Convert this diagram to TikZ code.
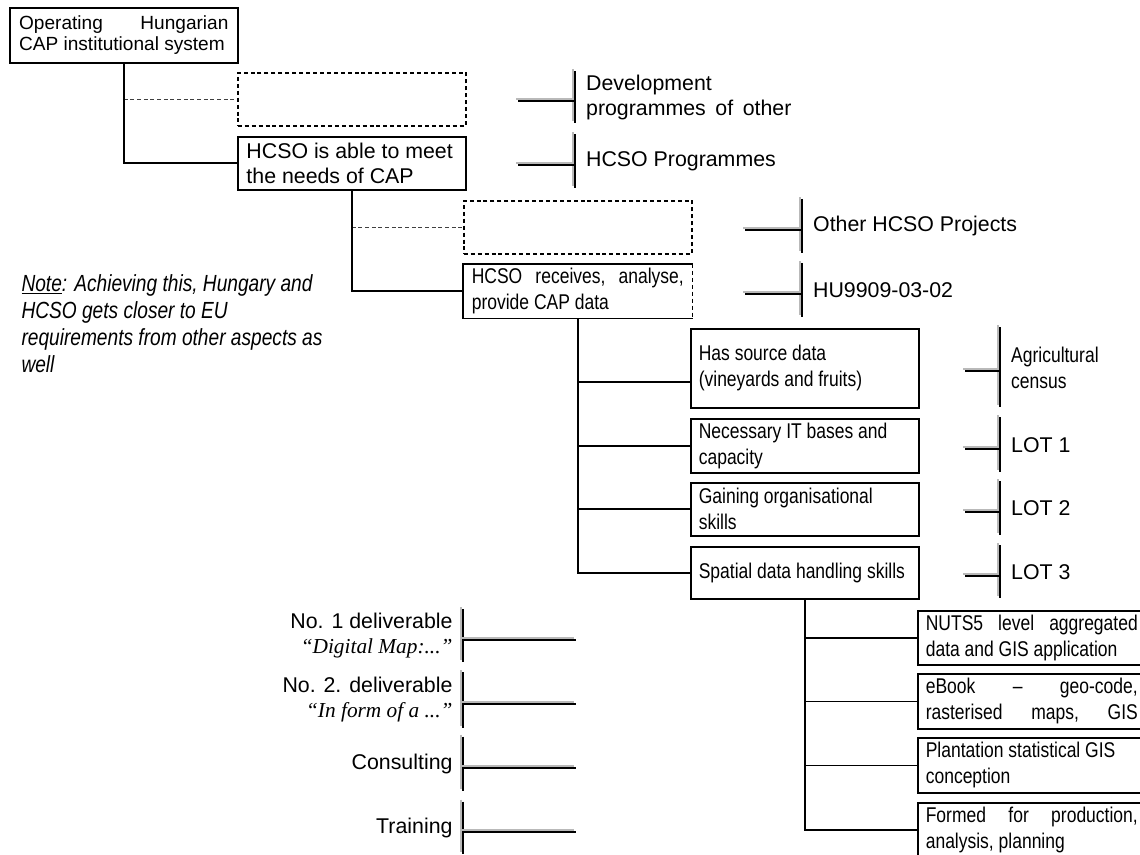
\documentclass[tikz,border=0pt]{standalone}
\usepackage{fontspec}
\setmainfont{Liberation Sans}
\newfontfamily\narrowfont{Liberation Sans}[FakeStretch=0.82]
\newfontfamily\quotefont{Liberation Serif}
\usetikzlibrary{calc}

\tikzset{every picture/.style={line width=0.75pt}}
\tikzset{
  box/.style={draw, line width=1.2pt, anchor=north west, minimum width=171pt, text width=159pt, inner xsep=6pt, inner ysep=2pt, align=flush left, font=\fontsize{16}{18.75}\selectfont},
  narrowbox/.style={box, font=\narrowfont\fontsize{16}{19.5}\selectfont},
  dashbox/.style={draw, line width=1.2pt, dash pattern=on 3pt off 2.2pt, anchor=north west, minimum width=171pt, minimum height=39.75pt},
  link/.style={line width=1.2pt},
  dashlink/.style={line width=0.8pt, draw=gray!50!black, dash pattern=on 3pt off 2pt},
  bar/.style={line width=1.5pt, preaction={draw=gray!55, line width=1.5pt, transform canvas={shift={(-1.5pt,1.5pt)}}}},
  tag/.style={anchor=west, inner xsep=8pt, inner ysep=0pt, align=flush left, minimum height=39.75pt, font=\fontsize{16}{18.75}\selectfont},
  deliv/.style={anchor=east, inner xsep=7.5pt, inner ysep=0pt, align=right, minimum height=39.75pt, font=\fontsize{16}{18.75}\selectfont}
}

\begin{document}
\begin{tikzpicture}[x=0.75pt,y=0.75pt,yscale=-1,xscale=1]
\useasboundingbox (0,0) rectangle (1140,855);

%Shape: Rectangle [top]
\node (top) [box, minimum height=41.25pt, inner xsep=7pt, text width=157pt, font=\fontsize{14.3}{15.75}\selectfont] at (9,7) {Operating\hfill Hungarian\\CAP institutional system};
\node (dashA) [dashbox] at (237,72) {};
\node (meet) [box, minimum height=39.75pt, inner xsep=6.5pt, text width=158pt] at (237,136) {HCSO is able to meet\\the needs of CAP};
\node (dashB) [dashbox] at (463,200) {};
\node (recv) [narrowbox, draw=none, minimum height=39.75pt] at (463,264) {HCSO\hfill receives,\hfill analyse,\\provide CAP data};

%Shape: Rectangle [column 3]
\node (src) [narrowbox, minimum height=59.25pt] at (690,328) {Has source data\\(vineyards and fruits)};
\node (itb) [narrowbox, minimum height=40.5pt] at (690,418) {Necessary IT bases and\\capacity};
\node (org) [narrowbox, minimum height=39.75pt] at (690,482) {Gaining organisational\\skills};
\node (spat) [narrowbox, minimum height=39pt] at (690,546) {Spatial data handling skills};

%Shape: Rectangle [column 4]
\node (nuts) [narrowbox, minimum height=40.5pt] at (917,610) {NUTS5\hfill level\hfill aggregated\\data and GIS application};
\node (ebook) [narrowbox, minimum height=41.25pt] at (917,673) {eBook\hfill –\hfill geo-code,\\rasterised\hfill maps,\hfill GIS};
\node (plant) [narrowbox, minimum height=41.25pt] at (917,737) {Plantation statistical GIS\\conception};
\node (formed) [narrowbox, minimum height=40.5pt] at (917,802) {Formed\hfill for\hfill production,\\analysis, planning};

% Text Node
\node (dev) [tag, minimum height=38.25pt, text width=154pt] at (575,97.5) {Development\\programmes\hfill of\hfill other};
\node (hprog) [tag] at (575,161.5) {HCSO Programmes};
\node (othp) [tag] at (802,226) {Other HCSO Projects};
\node (hu) [tag] at (802,290.5) {HU9909-03-02};
\node (agr) [tag, minimum height=59.25pt, font=\narrowfont\fontsize{16}{19.5}\selectfont] at (1000,367.5) {Agricultural\\census};
\node (lot1) [tag, minimum height=40.5pt] at (1000,445) {LOT 1};
\node (lot2) [tag] at (1000,508.5) {LOT 2};
\node (lot3) [tag, minimum height=39pt] at (1000,572) {LOT 3};

% Text Node
\node (del1) [deliv, minimum height=39pt] at (463,636) {No. 1 deliverable\\{\quotefont\itshape\fontsize{16}{18.75}\selectfont “Digital Map:...”}};
\node (del2) [deliv, minimum height=40.5pt] at (463,700) {No. 2. deliverable\\{\quotefont\itshape\fontsize{16}{18.75}\selectfont “In form of a ...”}};
\node (cons) [deliv] at (463,763.5) {Consulting};
\node (train) [deliv, minimum height=38.25pt] at (463,827.5) {Training};

% Text Node
\node (note) [anchor=north west, inner sep=0pt, align=left, font=\narrowfont\itshape\fontsize{17.5}{20.3}\selectfont] at (21,274) {\underline{Note}: Achieving this, Hungary and\\HCSO gets closer to EU\\requirements from other aspects as\\well};

%Straight Lines
\draw[dashlink] (top.south |- dashA.west) -- (dashA.west);
\draw[link] (top.south) |- (meet.west);
\draw[dashlink] (meet.south |- dashB.west) -- (dashB.west);
\draw[link] (meet.south) |- (recv.west);
\draw[link] (recv.north east) -- (recv.north west) -- (recv.south west) -- (recv.south east);
\draw[link, dash pattern=on 3pt off 2.2pt] (recv.north east) -- (recv.south east);
\draw[link] (recv.south) |- ($(src.west)+(0,14)$);
\draw[link] (recv.south) |- (itb.west);
\draw[link] (recv.south) |- (org.west);
\draw[link] (recv.south) |- (spat.west);
\draw[link] (spat.south) |- (nuts.west);
\draw[link] (spat.south) |- (ebook.west);
\draw[link] (spat.south) |- (plant.west);
\draw[link] (spat.south) |- (formed.west);

%Shape: Bars
\foreach \t/\l in {dev/57,hprog/57,othp/57,hu/57,agr/35,lot1/35,lot2/35,lot3/35}{
  \draw[bar] (\t.north west) -- (\t.south west);
  \draw[bar] ($(\t.west)+(-\l,4)$) -- ($(\t.west)+(0,4)$);
}
\foreach \t in {del1,del2,cons,train}{
  \draw[bar] (\t.north east) -- (\t.south east);
  \draw[bar] ($(\t.east)+(0,4)$) -- ($(\t.east)+(113,4)$);
}

\end{tikzpicture}
\end{document}
